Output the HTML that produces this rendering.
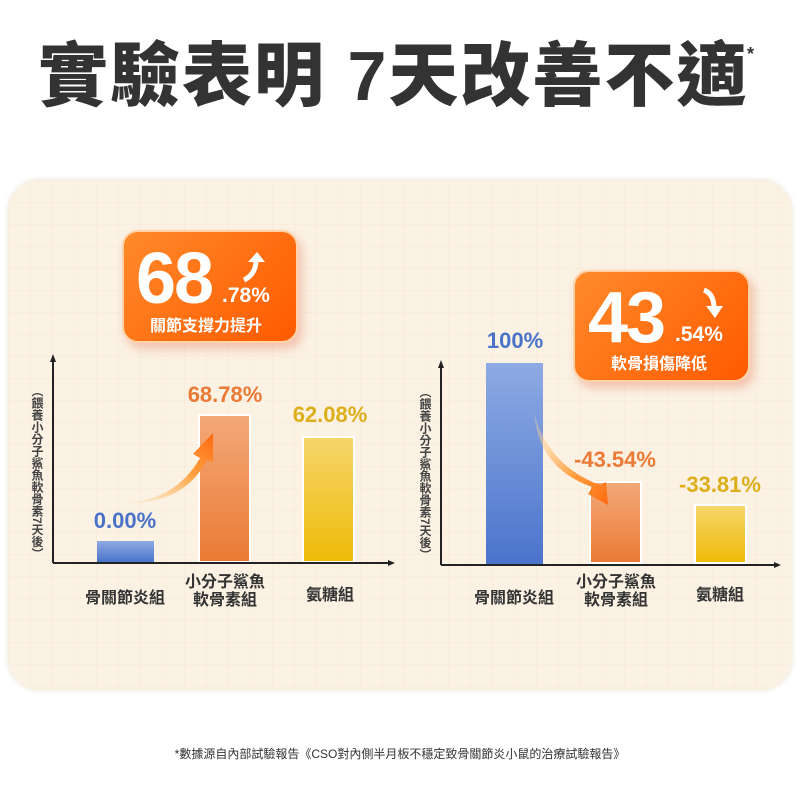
<!DOCTYPE html>
<html><head><meta charset="utf-8"><style>
*{margin:0;padding:0;box-sizing:border-box}
body{width:800px;height:800px;background:#fff;position:relative;overflow:hidden;font-family:"Liberation Sans","Noto Sans CJK TC",sans-serif}
.a{position:absolute}
.title{left:38px;top:36px;font-size:70px;font-weight:900;color:#333;white-space:nowrap;letter-spacing:2px;line-height:80px}
.panel{left:8px;top:180px;width:784px;height:510px;border-radius:32px;background-color:#fbf2e4;
background-image:linear-gradient(rgba(230,215,195,.18) 1px,transparent 1px),linear-gradient(90deg,rgba(230,215,195,.18) 1px,transparent 1px);background-size:22px 22px;box-shadow:0 0 6px rgba(200,180,150,.4)}
.badge{background:linear-gradient(135deg,#ff8a2a,#ff5a00);border-radius:16px;color:#fff;box-shadow:4px 6px 10px rgba(230,120,90,.4);border:2px solid #ffd2a8}
.big{font-size:72px;font-weight:900;line-height:72px;letter-spacing:-2px}
.sm{font-size:21px;font-weight:900}
.sub{font-size:16px;font-weight:700;white-space:nowrap}
.val{font-size:22px;font-weight:900;text-align:center;white-space:nowrap}
.cat{font-size:16px;font-weight:700;color:#333;text-align:center;line-height:18px;white-space:nowrap}
.ylab{font-size:12px;color:#444;writing-mode:vertical-rl;line-height:12px;font-weight:700}
.blue{background:linear-gradient(#8eaae3,#4a74cc)}
.org{background:linear-gradient(#f3a878,#ea7b35);border:2px solid #fff}
.yel{background:linear-gradient(#f6d56a,#eebb08);border:2px solid #fff}
</style></head><body>
<div class="a title">實驗表明 7天改善不適</div>
<div class="a" style="left:747px;top:44px;font-size:18px;font-weight:700;color:#333">*</div>
<div class="a panel"></div>

<!-- left chart -->
<div class="a badge" style="left:122px;top:230px;width:176px;height:113px"></div>
<div class="a big" style="left:136px;top:243px;color:#fff">68</div>
<div class="a sm" style="left:222px;top:284px;color:#fff">.78%</div>
<svg class="a" style="left:240px;top:250px" width="30" height="32"><path d="M4 30 Q16 24 16 10" stroke="#fff" stroke-width="5" fill="none"/><path d="M8 12 L17 2 L25 12 Z" fill="#fff"/></svg>
<div class="a sub" style="left:150px;top:312px;color:#fff">關節支撐力提升</div>

<div class="a ylab" style="left:31px;top:385px">（餵養小分子鯊魚軟骨素7天後）</div>
<div class="a blue" style="left:97px;top:541px;width:57px;height:21px"></div>
<div class="a org" style="left:198px;top:414px;width:53px;height:149px"></div>
<div class="a yel" style="left:302px;top:436px;width:53px;height:127px"></div>
<div class="a val" style="left:80px;top:508px;width:90px;color:#4a72c8">0.00%</div>
<div class="a val" style="left:175px;top:382px;width:100px;color:#ea7a35">68.78%</div>
<div class="a val" style="left:280px;top:402px;width:100px;color:#dcae1a">62.08%</div>
<div class="a cat" style="left:75px;top:590px;width:100px">骨關節炎組</div>
<div class="a cat" style="left:175px;top:574px;width:100px">小分子鯊魚<br>軟骨素組</div>
<div class="a cat" style="left:280px;top:587px;width:100px">氨糖組</div>

<!-- right chart -->
<div class="a badge" style="left:573px;top:270px;width:177px;height:112px"></div>
<div class="a big" style="left:588px;top:282px;color:#fff">43</div>
<div class="a sm" style="left:675px;top:323px;color:#fff">.54%</div>
<svg class="a" style="left:698px;top:288px" width="30" height="32"><path d="M6 2 Q16 6 16 20" stroke="#fff" stroke-width="5" fill="none"/><path d="M8 18 L17 30 L25 18 Z" fill="#fff"/></svg>
<div class="a sub" style="left:611px;top:350px;color:#fff">軟骨損傷降低</div>

<div class="a ylab" style="left:419px;top:386px">（餵養小分子鯊魚軟骨素7天後）</div>
<div class="a blue" style="left:486px;top:363px;width:57px;height:201px"></div>
<div class="a org" style="left:589px;top:481px;width:53px;height:83px"></div>
<div class="a yel" style="left:694px;top:504px;width:53px;height:60px"></div>
<div class="a val" style="left:465px;top:328px;width:100px;color:#4a72c8">100%</div>
<div class="a val" style="left:560px;top:447px;width:110px;color:#ea7a35">-43.54%</div>
<div class="a val" style="left:665px;top:472px;width:110px;color:#dcae1a">-33.81%</div>
<div class="a cat" style="left:464px;top:590px;width:100px">骨關節炎組</div>
<div class="a cat" style="left:566px;top:574px;width:100px">小分子鯊魚<br>軟骨素組</div>
<div class="a cat" style="left:670px;top:587px;width:100px">氨糖組</div>

<svg class="a" style="left:0;top:0" width="800" height="800">
<defs><linearGradient id="g1" x1="0" y1="1" x2="1" y2="0"><stop offset="0" stop-color="#ffe3b0" stop-opacity=".2"/><stop offset=".6" stop-color="#ffa040"/><stop offset="1" stop-color="#ff6a10"/></linearGradient>
<linearGradient id="g2" x1="0" y1="0" x2="1" y2="1"><stop offset="0" stop-color="#ffe3b0" stop-opacity=".2"/><stop offset=".6" stop-color="#ffa040"/><stop offset="1" stop-color="#ff6a10"/></linearGradient></defs>
<line x1="53" y1="360" x2="53" y2="563" stroke="#222" stroke-width="2"/>
<path d="M50 362 L53 354 L56 362Z" fill="#222"/>
<line x1="53" y1="563" x2="390" y2="563" stroke="#222" stroke-width="2"/>
<path d="M388 560 L395 563 L388 566Z" fill="#222"/>
<line x1="441" y1="366" x2="441" y2="565" stroke="#222" stroke-width="2"/>
<path d="M438 368 L441 360 L444 368Z" fill="#222"/>
<line x1="441" y1="565" x2="776" y2="565" stroke="#222" stroke-width="2"/>
<path d="M774 562 L781 565 L774 568Z" fill="#222"/>
<path d="M120 503 Q175 502 200 458 L193 454 L213 433 L213 462 L207 460 Q183 506 120 503Z" fill="url(#g1)"/>
<path d="M534 412 Q538 468 592 487 L588 494 L608 505 L606 482 L600 485 Q548 466 534 412Z" fill="url(#g2)"/>
</svg>

<div class="a" style="left:0;top:745px;width:800px;text-align:center;font-size:12px;color:#333;white-space:nowrap">*數據源自內部試驗報告《CSO對內側半月板不穩定致骨關節炎小鼠的治療試驗報告》</div>
</body></html>
